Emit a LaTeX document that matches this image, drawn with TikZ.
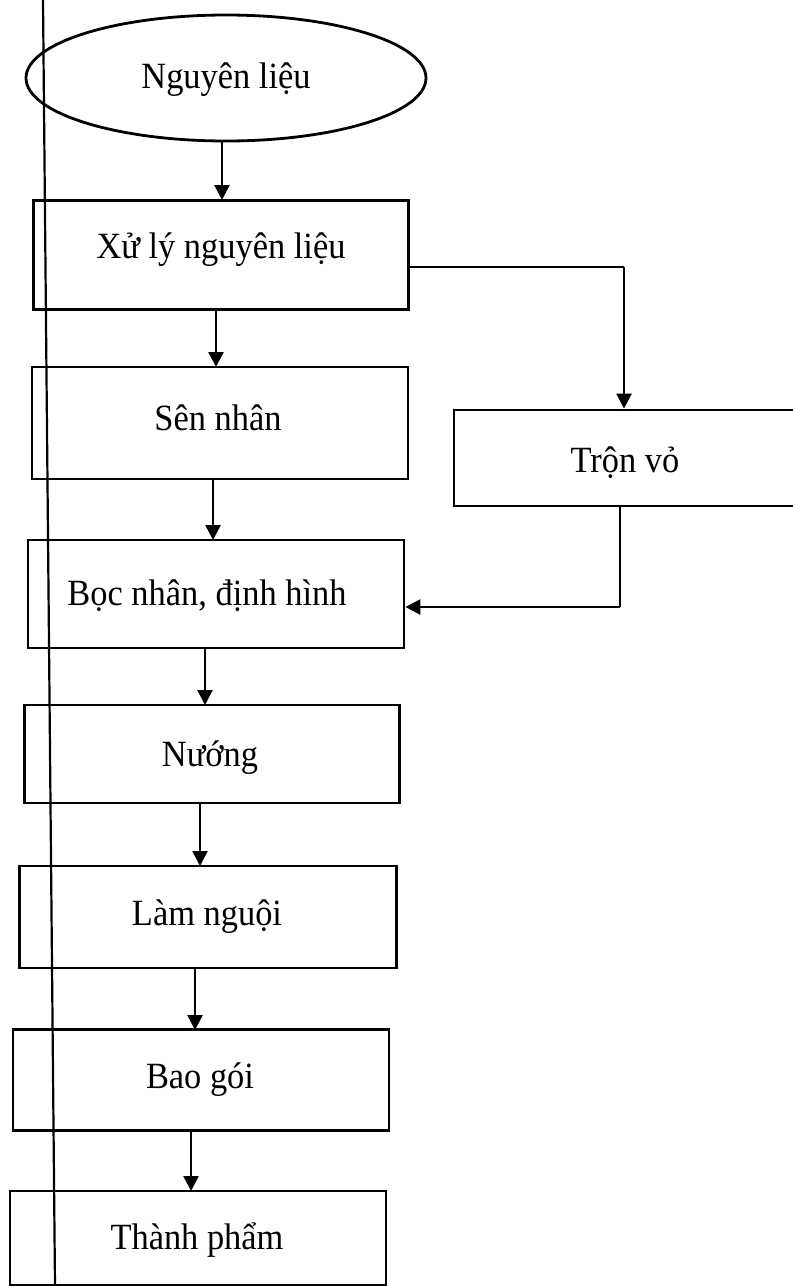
\documentclass[tikz,border=0pt]{standalone}
\usepackage{fontspec}
\setmainfont{Liberation Serif}[FakeStretch=0.93]
\usetikzlibrary{shapes.geometric,arrows.meta}
\begin{document}
\begin{tikzpicture}[x=1pt,y=-1pt,
  every node/.style={font=\fontsize{37}{42}\selectfont},
  stepbox/.style={draw,line width=2.8pt,rectangle,inner sep=0pt},
  link/.style={line width=2.5pt,-{Triangle[length=15pt,width=15pt]}},
  plain/.style={line width=2.5pt}]
\useasboundingbox[fill=white] (0,0) rectangle (793,1286);
\node[draw,line width=2.8pt,ellipse,minimum width=400pt,minimum height=126pt,inner sep=0pt] (nl) at (226,78) {};
\node at (226,80) {Nguyên liệu};
\node[stepbox,minimum width=375pt,minimum height=109pt] (xl) at (221,255) {};
\node at (221,250) {Xử lý nguyên liệu};
\node[stepbox,minimum width=376pt,minimum height=112pt] (sn) at (220,423) {};
\node at (218,418) {Sên nhân};
\node[stepbox,minimum width=350pt,minimum height=96pt] (tv) at (629,458) {};
\node at (625,463) {Trộn vỏ};
\node[stepbox,minimum width=376pt,minimum height=108pt] (bn) at (216,594) {};
\node at (207,596) {Bọc nhân, định hình};
\node[stepbox,minimum width=375pt,minimum height=98pt] (nu) at (212,754) {};
\node at (210,758) {Nướng};
\node[stepbox,minimum width=377pt,minimum height=102pt] (ln) at (208,917) {};
\node at (207,917) {Làm nguội};
\node[stepbox,minimum width=376pt,minimum height=101pt] (bg) at (201,1080) {};
\node at (200,1080) {Bao gói};
\node[stepbox,minimum width=376pt,minimum height=94pt] (tp) at (198,1238) {};
\node at (197,1240) {Thành phẩm};
% page edge line
\coordinate (lt) at (43,0);
\coordinate (lb) at (55,1286);
\draw[line width=2.2pt] (lt) -- (lb);
% connectors
\draw[link] (222,140) -- (222,200);
\draw[link] (216,309.5) -- (216,367);
\draw[link] (213,479) -- (213,540);
\draw[link] (205,648) -- (205,705);
\draw[link] (200,803) -- (200,866);
\draw[link] (195,968) -- (195,1030);
\draw[link] (191,1130.5) -- (191,1191);
\coordinate (c1) at (624,267);
\coordinate (c2) at (620,607);
\draw[plain] (xl.east |- c1) -- (c1);
\draw[link] (c1) -- (c1 |- tv.north);
\draw[plain] (c2 |- tv.south) -- (c2);
\draw[link] (c2) -- (bn.east |- c2);
\end{tikzpicture}
\end{document}
